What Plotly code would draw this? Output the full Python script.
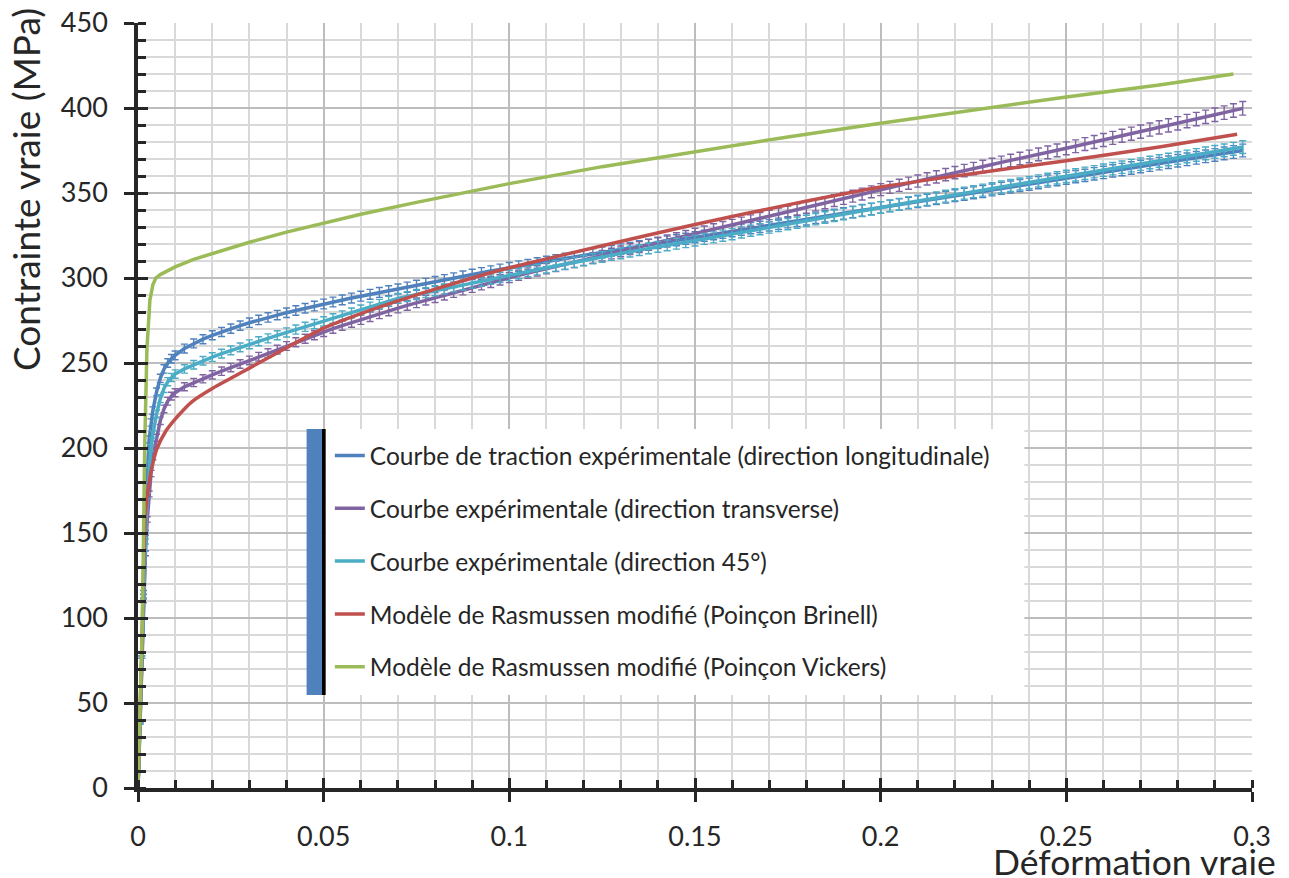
import plotly.graph_objects as go

# ---------------- data ----------------
strain_exp = [0, 0.0005, 0.001, 0.0015, 0.002, 0.0025, 0.003, 0.0035, 0.004, 0.005, 0.006, 0.007, 0.008, 0.009,
              0.01, 0.0125, 0.015, 0.0175, 0.02, 0.0225, 0.025, 0.0275, 0.03, 0.0325,
              0.035, 0.0375, 0.04, 0.0425, 0.045, 0.0475, 0.05, 0.0525, 0.055, 0.0575,
              0.06, 0.0625, 0.065, 0.0675, 0.07, 0.0725, 0.075, 0.0775, 0.08, 0.0825,
              0.085, 0.0875, 0.09, 0.0925, 0.095, 0.0975, 0.1, 0.1025, 0.105, 0.1075,
              0.11, 0.1125, 0.115, 0.1175, 0.12, 0.1225, 0.125, 0.1275, 0.13, 0.1325,
              0.135, 0.1375, 0.14, 0.1425, 0.145, 0.1475, 0.15, 0.1525, 0.155, 0.1575,
              0.16, 0.1625, 0.165, 0.1675, 0.17, 0.1725, 0.175, 0.1775, 0.18, 0.1825,
              0.185, 0.1875, 0.19, 0.1925, 0.195, 0.1975, 0.2, 0.2025, 0.205, 0.2075,
              0.21, 0.2125, 0.215, 0.2175, 0.22, 0.2225, 0.225, 0.2275, 0.23, 0.2325,
              0.235, 0.2375, 0.24, 0.2425, 0.245, 0.2475, 0.25, 0.2525, 0.255, 0.2575,
              0.26, 0.2625, 0.265, 0.2675, 0.27, 0.2725, 0.275, 0.2775, 0.28, 0.2825,
              0.285, 0.2875, 0.29, 0.2925, 0.295, 0.2975]

stress_long = [0, 38, 77, 115, 150, 185, 205, 215, 222, 233, 241, 246.5, 250, 252.5,
               254.5, 258.5, 261.5, 264.0, 266.3, 268.3, 270.2, 272.0, 273.7, 275.3,
               276.8, 278.2, 279.6, 280.9, 282.2, 283.5, 284.7, 285.9, 287.1, 288.2,
               289.3, 290.4, 291.5, 292.5, 293.5, 294.6, 295.7, 296.8, 297.9, 299.0,
               300.0, 301.1, 302.1, 303.1, 304.1, 305.1, 306.1, 307.0, 307.9, 308.8,
               309.7, 310.6, 311.5, 312.4, 313.3, 314.2, 315.1, 316.0, 316.9, 317.8,
               318.7, 319.6, 320.5, 321.4, 322.2, 323.1, 324.0, 324.9, 325.8, 326.6,
               327.5, 328.4, 329.3, 330.1, 331.0, 331.9, 332.8, 333.6, 334.5, 335.4,
               336.3, 337.1, 338.0, 338.9, 339.8, 340.6, 341.5, 342.4, 343.2, 344.1,
               344.9, 345.8, 346.6, 347.5, 348.4, 349.2, 350.1, 350.9, 351.8, 352.7,
               353.5, 354.4, 355.2, 356.1, 357.0, 357.8, 358.7, 359.6, 360.4, 361.3,
               362.1, 363.0, 363.8, 364.7, 365.6, 366.4, 367.3, 368.1, 369.0, 369.8,
               370.7, 371.6, 372.4, 373.3, 374.1, 375.0]

stress_trans = [0, 38, 77, 110, 138, 158, 173, 185, 195, 206, 216, 223, 227.5, 230.5,
                232.5, 236.0, 238.5, 240.7, 243.0, 245.2, 247.3, 249.4, 251.5, 253.7,
                255.8, 257.9, 260.0, 262.2, 264.3, 266.3, 268.3, 270.2, 272.0, 273.8,
                275.5, 277.2, 278.9, 280.6, 282.3, 283.9, 285.4, 287.0, 288.5, 290.0,
                291.5, 293.0, 294.5, 296.0, 297.4, 298.9, 300.3, 301.6, 302.9, 304.2,
                305.5, 306.8, 308.0, 309.3, 310.5, 311.8, 313.1, 314.4, 315.7, 317.0,
                318.2, 319.5, 320.8, 322.1, 323.4, 324.7, 326.0, 327.3, 328.6, 329.9,
                331.2, 332.5, 333.8, 335.1, 336.4, 337.7, 339.0, 340.3, 341.6, 342.9,
                344.2, 345.5, 346.8, 348.1, 349.4, 350.7, 352.0, 353.3, 354.5, 355.8,
                357.0, 358.3, 359.5, 360.8, 362.0, 363.2, 364.4, 365.6, 366.8, 368.0,
                369.1, 370.3, 371.5, 372.7, 373.9, 375.1, 376.3, 377.5, 378.8, 380.0,
                381.2, 382.4, 383.7, 384.9, 386.1, 387.3, 388.6, 389.8, 391.0, 392.3,
                393.5, 394.8, 396.0, 397.3, 398.5, 399.8]

stress_45 = [0, 38, 77, 113, 145, 172, 190, 200, 208, 220, 229, 235, 239, 241.5,
             243.5, 246.5, 249.0, 251.3, 253.5, 255.5, 257.4, 259.2, 261.0, 262.8,
             264.5, 266.3, 268.0, 269.7, 271.3, 272.9, 274.5, 276.2, 277.9, 279.6,
             281.3, 283.0, 284.6, 286.3, 288.0, 289.1, 290.3, 291.4, 292.5, 293.6,
             294.8, 295.9, 297.0, 298.1, 299.3, 300.4, 301.5, 302.6, 303.8, 304.9,
             306.0, 307.1, 308.2, 309.2, 310.3, 311.4, 312.4, 313.5, 314.5, 315.5,
             316.4, 317.4, 318.3, 319.2, 320.2, 321.1, 322.0, 323.0, 323.9, 324.9,
             325.8, 326.8, 327.8, 328.7, 329.7, 330.7, 331.7, 332.6, 333.6, 334.6,
             335.6, 336.6, 337.6, 338.6, 339.6, 340.5, 341.5, 342.5, 343.4, 344.4,
             345.3, 346.2, 347.2, 348.1, 349.0, 349.9, 350.8, 351.7, 352.6, 353.5,
             354.4, 355.3, 356.2, 357.1, 358.0, 358.9, 359.8, 360.7, 361.6, 362.5,
             363.4, 364.3, 365.2, 366.1, 367.0, 367.9, 368.8, 369.7, 370.6, 371.5,
             372.4, 373.3, 374.2, 375.1, 376.0, 377.0]

error_percent = 1.0

strain_brinell = [0, 0.0005, 0.001, 0.0015, 0.002, 0.003, 0.004, 0.005, 0.0075, 0.01, 0.0125, 0.015,
                  0.02, 0.025, 0.03, 0.04, 0.05, 0.06, 0.07, 0.08, 0.09, 0.1, 0.125, 0.15, 0.175,
                  0.2, 0.225, 0.25, 0.275, 0.296]
stress_brinell = [0, 40, 80, 130, 162, 180, 191, 199, 210, 217, 223, 228,
                  235, 241, 247, 259, 270.5, 279, 286.5, 293.5, 300, 306, 319, 331.5, 343,
                  353.5, 361.5, 369, 377, 384.5]

strain_vickers = [0, 0.0007, 0.0012, 0.0015, 0.0018, 0.0024, 0.0032, 0.004, 0.0048, 0.006, 0.008,
                  0.01, 0.015, 0.02, 0.03, 0.04, 0.05, 0.06, 0.075, 0.1, 0.125, 0.15, 0.175, 0.2,
                  0.225, 0.25, 0.275, 0.295]
stress_vickers = [0, 50, 100, 150, 200, 258, 287, 296, 300, 302, 304.5,
                  306.5, 311, 314.5, 321, 327, 332.5, 337.5, 344.5, 355.5, 365.5, 374.5, 383, 391,
                  399, 406.5, 413.5, 420]

series_names = [
    "Courbe de traction expérimentale (direction longitudinale)",
    "Courbe expérimentale (direction transverse)",
    "Courbe expérimentale (direction 45°)",
    "Modèle de Rasmussen modifié (Poinçon Brinell)",
    "Modèle de Rasmussen modifié (Poinçon Vickers)",
]
series_colors = ["#4F81BD", "#8064A2", "#4BACC6", "#C0504D", "#9BBB59"]

x_ticks = [0, 0.05, 0.1, 0.15, 0.2, 0.25, 0.3]
x_tick_labels = ["0", "0.05", "0.1", "0.15", "0.2", "0.25", "0.3"]
y_ticks = [0, 50, 100, 150, 200, 250, 300, 350, 400, 450]

x_title = "Déformation vraie"
y_title = "Contrainte vraie (MPa)"

# ---------------- figure ----------------
FONT = "Lato"
TXT = "#262626"

fig = go.Figure()

exp_series = [stress_long, stress_trans, stress_45]
for i, ys in enumerate(exp_series):
    fig.add_trace(go.Scatter(
        x=strain_exp, y=ys, mode="lines", name=series_names[i],
        legendgroup=f"g{i}",
        line=dict(color=series_colors[i], width=3.5),
        error_y=dict(type="percent", value=error_percent, color=series_colors[i],
                     thickness=1.4, width=3.5),
    ))

fig.add_trace(go.Scatter(
    x=strain_brinell, y=stress_brinell, mode="lines", name=series_names[3],
    legendgroup="g3", line=dict(color=series_colors[3], width=3.5, shape="spline", smoothing=0.6),
))
fig.add_trace(go.Scatter(
    x=strain_vickers, y=stress_vickers, mode="lines", name=series_names[4],
    legendgroup="g4", line=dict(color=series_colors[4], width=3.5),
))

axis_common = dict(
    showline=True, linecolor=TXT, linewidth=3.5, mirror=False,
    zeroline=False, automargin=False, ticklabeloverflow="allow",
    ticks="outside", ticklen=10, tickwidth=3, tickcolor=TXT,
    tickfont=dict(family=FONT, size=27, color=TXT),
    showgrid=True, gridcolor="#BDBDBD", gridwidth=1.6,
)

# The page body has an 8px margin, so the figure is sized to fit the 1289x878 window.
fig.update_layout(
    width=1281, height=870,
    margin=dict(l=130, r=37, t=15, b=90, autoexpand=False),
    paper_bgcolor="white", plot_bgcolor="white",
    font=dict(family=FONT, color=TXT),
    showlegend=True,
    legend=dict(
        x=0.1722, y=0.4641, xanchor="left", yanchor="top",
        bgcolor="rgba(0,0,0,0)", borderwidth=0,
        font=dict(family=FONT, size=24.5, color=TXT),
        traceorder="grouped", tracegroupgap=18,
        itemwidth=30,
    ),
    xaxis=dict(
        range=[0, 0.3], tickvals=x_ticks, ticktext=x_tick_labels,
        minor=dict(dtick=0.01, ticks="inside", ticklen=8, tickwidth=3, tickcolor=TXT,
                   showgrid=True, gridcolor="#D9D9D9", gridwidth=1.6),
        ticklabelstandoff=12,
        **axis_common,
    ),
    yaxis=dict(
        range=[0, 450], tickvals=y_ticks,
        minor=dict(dtick=10, ticks="inside", ticklen=8, tickwidth=3, tickcolor=TXT,
                   showgrid=True, gridcolor="#D9D9D9", gridwidth=1.6),
        ticklabelstandoff=11,
        **axis_common,
    ),
    xaxis2=dict(overlaying="x", anchor="y", side="bottom", range=[0, 0.3], tickvals=x_ticks,
                ticks="inside", ticklen=10, tickwidth=3, tickcolor=TXT, automargin=False,
                showticklabels=False, showgrid=False, showline=False, zeroline=False),
    yaxis2=dict(overlaying="y", anchor="x", side="left", range=[0, 450], tickvals=y_ticks,
                ticks="inside", ticklen=10, tickwidth=3, tickcolor=TXT, automargin=False,
                showticklabels=False, showgrid=False, showline=False, zeroline=False),
)

# invisible trace to activate the overlay axes (inner half of the major ticks)
fig.add_trace(go.Scatter(x=[0], y=[0], xaxis="x2", yaxis="y2", mode="markers",
                         marker=dict(opacity=0), showlegend=False, hoverinfo="skip"))

# legend white box and the blue/black bar at its left edge
fig.add_shape(type="rect", xref="x", yref="y", x0=0.0505, x1=0.2387, y0=54.7, y1=211.2,
              fillcolor="white", line=dict(width=0), layer="above")
fig.add_shape(type="rect", xref="x", yref="y", x0=0.0454, x1=0.04954, y0=54.7, y1=211.2,
              fillcolor="#4F81BD", line=dict(width=0), layer="above")
fig.add_shape(type="rect", xref="x", yref="y", x0=0.04954, x1=0.05054, y0=54.7, y1=211.2,
              fillcolor="black", line=dict(width=0), layer="above")

# axis titles
fig.add_annotation(text=y_title, xref="paper", yref="paper", x=0, y=0.7817,
                   xanchor="center", yanchor="middle", xshift=-112, textangle=-90,
                   showarrow=False, font=dict(family=FONT, size=37, color=TXT))
fig.add_annotation(text=x_title, xref="paper", yref="paper", x=1, y=0,
                   xanchor="right", yanchor="top", xshift=26, yshift=-50,
                   showarrow=False, font=dict(family=FONT, size=35.5, color=TXT))

fig.write_html("out.html")
